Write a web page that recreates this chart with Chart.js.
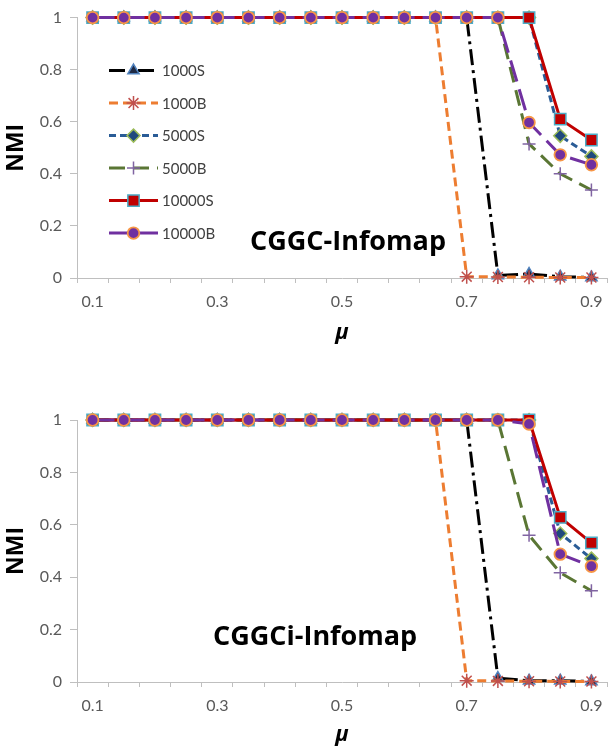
<!DOCTYPE html>
<html>
<head>
<meta charset="utf-8">
<script src="https://cdn.jsdelivr.net/npm/chart.js@4.4.1/dist/chart.umd.min.js"></script>
<style>
html,body{margin:0;padding:0;background:#ffffff;}
#wrap{position:relative;width:608px;height:749px;overflow:hidden;}
.box{position:absolute;left:0;width:608px;}
#b1{top:0;height:374px;}
#b2{top:374px;height:375px;}
</style>
</head>
<body>
<div id="wrap">
  <div class="box" id="b1"><canvas id="c1"></canvas></div>
  <div class="box" id="b2"><canvas id="c2"></canvas></div>
</div>
<script>
// ---------- data ----------
const muLabels = ['0.1','0.15','0.2','0.25','0.3','0.35','0.4','0.45','0.5','0.55','0.6','0.65','0.7','0.75','0.8','0.85','0.9'];
const seriesNames = ['1000S','1000B','5000S','5000B','10000S','10000B'];
const chartTitles = ['CGGC-Infomap','CGGCi-Infomap'];

// CGGC-Infomap (top)
const cggc1000S  = [1,1,1,1,1,1,1,1,1,1,1,1,1,0.010,0.015,0.005,0.002];
const cggc1000B  = [1,1,1,1,1,1,1,1,1,1,1,1,0.005,0.004,0.003,0.002,0.002];
const cggc5000S  = [1,1,1,1,1,1,1,1,1,1,1,1,1,1,1,0.546,0.467];
const cggc5000B  = [1,1,1,1,1,1,1,1,1,1,1,1,1,1,0.515,0.400,0.338];
const cggc10000S = [1,1,1,1,1,1,1,1,1,1,1,1,1,1,1,0.610,0.530];
const cggc10000B = [1,1,1,1,1,1,1,1,1,1,1,1,1,1,0.597,0.473,0.435];

// CGGCi-Infomap (bottom)
const cggci1000S  = [1,1,1,1,1,1,1,1,1,1,1,1,1,0.015,0.005,0.005,0.002];
const cggci1000B  = [1,1,1,1,1,1,1,1,1,1,1,1,0.005,0.004,0.003,0.002,0.002];
const cggci5000S  = [1,1,1,1,1,1,1,1,1,1,1,1,1,1,1,0.567,0.471];
const cggci5000B  = [1,1,1,1,1,1,1,1,1,1,1,1,1,1,0.560,0.417,0.348];
const cggci10000S = [1,1,1,1,1,1,1,1,1,1,1,1,1,1,1,0.628,0.531];
const cggci10000B = [1,1,1,1,1,1,1,1,1,1,1,1,1,1,0.985,0.488,0.442];

const topSeries = [cggc1000S, cggc1000B, cggc5000S, cggc5000B, cggc10000S, cggc10000B];
const botSeries = [cggci1000S, cggci1000B, cggci5000S, cggci5000B, cggci10000S, cggci10000B];

// ---------- styles ----------
const seriesStyles = [
  {line:'#000000', dash:[16,5,3,5], ps:'triangle', r:6.5, bg:'#1F2A44', bc:'#4F81BD', bw:1.5},
  {line:'#ED7D31', dash:[9,5],      ps:'star',     r:7,   bg:'#C0504D', bc:'#C0504D', bw:1.5},
  {line:'#2A5C96', dash:[7,4],      ps:'rectRot',  r:6.5, bg:'#1F497D', bc:'#9BBB59', bw:1.5},
  {line:'#5A7634', dash:[16,8],     ps:'cross',    r:6.5, bg:'#8064A2', bc:'#8064A2', bw:1.5},
  {line:'#C00000', dash:[],         ps:'rect',     r:8,   bg:'#C00000', bc:'#4BACC6', bw:1.5},
  {line:'#7030A0', dash:[22,8],     ps:'circle',   r:5.8, bg:'#7030A0', bc:'#F79646', bw:1.8}
];

const AXIS_COLOR = '#BFBFBF';
const TICK_COLOR = '#595959';

function makeDatasets(series) {
  return series.map((vals, i) => {
    const s = seriesStyles[i];
    return {
      label: seriesNames[i],
      data: vals,
      borderColor: s.line,
      borderWidth: 3,
      borderDash: s.dash,
      pointStyle: s.ps,
      pointRadius: s.r,
      pointBackgroundColor: s.bg,
      pointBorderColor: s.bc,
      pointBorderWidth: s.bw,
      fill: false,
      tension: 0,
      clip: false,
      order: series.length - i
    };
  });
}

const overlayPlugin = {
  id: 'overlay',
  afterDatasetsDraw(chart, args, opts) {
    const ctx = chart.ctx, a = chart.chartArea;
    ctx.save();
    ctx.fillStyle = '#000000';
    ctx.font = 'bold 27px "Open Sans"';
    ctx.textAlign = 'left';
    ctx.textBaseline = 'middle';
    ctx.fillText(opts.title, a.left + opts.titleDx, a.top + opts.titleDy);
    if (opts.legend) {
      const x0 = a.left + 32, x1 = a.left + 81, xt = a.left + 85;
      chart.data.datasets.forEach((ds, i) => {
        const y = a.top + 53 + 32.5 * i;
        ctx.save();
        ctx.strokeStyle = ds.borderColor;
        ctx.lineWidth = 3;
        ctx.setLineDash(ds.borderDash || []);
        ctx.beginPath();
        ctx.moveTo(x0, y);
        ctx.lineTo(x1, y);
        ctx.stroke();
        ctx.setLineDash([]);
        ctx.fillStyle = ds.pointBackgroundColor;
        ctx.strokeStyle = ds.pointBorderColor;
        ctx.lineWidth = ds.pointBorderWidth;
        Chart.helpers.drawPoint(ctx, {pointStyle: ds.pointStyle, radius: ds.pointRadius, borderWidth: ds.pointBorderWidth, rotation: 0}, (x0 + x1) / 2, y);
        ctx.restore();
        ctx.fillStyle = '#404040';
        ctx.font = '15px Lato';
        ctx.textBaseline = 'middle';
        ctx.fillText(ds.label, xt, y + 1);
      });
    }
    ctx.restore();
  }
};

function makeChart(canvasId, series, cfg) {
  return new Chart(document.getElementById(canvasId), {
    type: 'line',
    data: { labels: muLabels, datasets: makeDatasets(series) },
    plugins: [overlayPlugin],
    options: {
      responsive: true,
      maintainAspectRatio: false,
      animation: false,
      events: [],
      layout: { autoPadding: false, padding: { left: 0, right: 1, top: cfg.padTop, bottom: cfg.padBottom } },
      plugins: {
        legend: { display: false },
        tooltip: { enabled: false },
        overlay: { title: cfg.title, titleDx: cfg.titleDx, titleDy: cfg.titleDy, legend: cfg.legend }
      },
      scales: {
        x: {
          type: 'category',
          offset: true,
          afterFit: (s) => { s.height = cfg.xHeight; s.paddingLeft = 0; s.paddingRight = 0; },
          border: { display: true, color: AXIS_COLOR, width: 1 },
          grid: { display: true, drawOnChartArea: false, drawTicks: true, tickLength: 5, color: AXIS_COLOR, offset: true },
          ticks: {
            autoSkip: false, maxRotation: 0, minRotation: 0, padding: 9,
            color: TICK_COLOR, font: { family: 'Lato', size: 16 },
            callback: (v, i) => (i % 4 === 0 ? muLabels[i] : '')
          },
          title: { display: true, text: 'μ', color: '#000000', padding: { top: 0, bottom: 0 },
                   font: { family: 'Open Sans', size: 22, weight: 'bold', style: 'italic' } }
        },
        y: {
          min: 0, max: 1,
          afterFit: (s) => { s.width = 77; },
          border: { display: true, color: AXIS_COLOR, width: 1 },
          grid: { display: true, drawOnChartArea: false, drawTicks: true, tickLength: 7, color: AXIS_COLOR },
          ticks: { stepSize: 0.2, padding: 8, color: TICK_COLOR, font: { family: 'Lato', size: 16 },
                   callback: (v) => String(Math.round(v * 10) / 10) },
          title: { display: true, text: 'NMI', color: '#000000', padding: { top: 3, bottom: 0 },
                   font: { family: 'Open Sans', size: 23, weight: 'bold' } }
        }
      }
    }
  });
}

makeChart('c1', topSeries, { padTop: 17, padBottom: 28, xHeight: 68, title: chartTitles[0], titleDx: 173, titleDy: 225, legend: true });
makeChart('c2', botSeries, { padTop: 46, padBottom: 1, xHeight: 66, title: chartTitles[1], titleDx: 136, titleDy: 217, legend: false });
</script>
</body>
</html>
